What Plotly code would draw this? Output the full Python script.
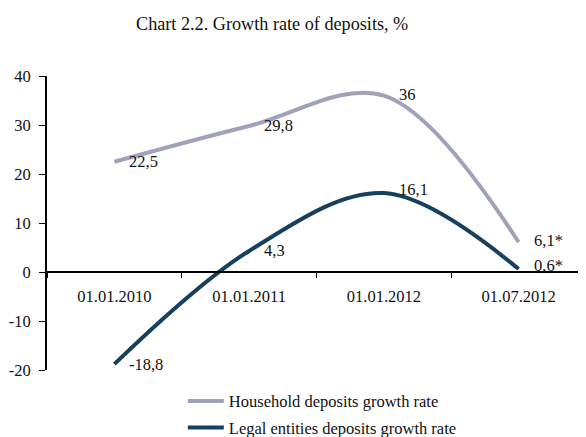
import plotly.graph_objects as go

categories = ["01.01.2010", "01.01.2011", "01.01.2012", "01.07.2012"]
household = [22.5, 29.8, 36, 6.1]
legal = [-18.8, 4.3, 16.1, 0.6]
household_labels = ["22,5", "29,8", "36", "6,1*"]
legal_labels = ["-18,8", "4,3", "16,1", "0,6*"]
y_ticks = [-20, -10, 0, 10, 20, 30, 40]

HH_COLOR = "#A0A1BA"
LE_COLOR = "#17405E"
FONT = "Liberation Serif, Times New Roman, serif"

fig = go.Figure()
fig.add_trace(go.Scatter(
    x=categories, y=household, mode="lines", name="Household deposits growth rate",
    legendgroup="hh",
    line=dict(color=HH_COLOR, width=4, shape="spline", smoothing=1.0),
))
fig.add_trace(go.Scatter(
    x=categories, y=legal, mode="lines", name="Legal entities deposits growth rate",
    legendgroup="le",
    line=dict(color=LE_COLOR, width=4, shape="spline", smoothing=1.0),
))

# data labels
hh_yshift = [0, 0, 1, 2]
le_yshift = [0, 0, 4, 4]
for i, c in enumerate(categories):
    fig.add_annotation(x=c, y=household[i], text=household_labels[i], showarrow=False,
                       xanchor="left", yanchor="middle", xshift=13, yshift=hh_yshift[i],
                       font=dict(family=FONT, size=16.5, color="#111"))
    fig.add_annotation(x=c, y=legal[i], text=legal_labels[i], showarrow=False,
                       xanchor="left", yanchor="middle", xshift=13, yshift=le_yshift[i],
                       font=dict(family=FONT, size=16.5, color="#111"))

fig.update_layout(
    width=578, height=437,
    margin=dict(l=39, r=0, t=68, b=75),
    paper_bgcolor="white", plot_bgcolor="white",
    font=dict(family=FONT, size=16.5, color="#111"),
    title=dict(text="Chart 2.2. Growth rate of deposits, %", x=0.457, xanchor="center",
               y=1 - 16 / 437, yanchor="middle", font=dict(family=FONT, size=18.2, color="#111")),
    showlegend=True,
    legend=dict(x=0.252, xanchor="left",
                y=-75 / 294 + 0.001, yanchor="bottom", bgcolor="rgba(0,0,0,0)",
                font=dict(family=FONT, size=16.5, color="#111"), tracegroupgap=2,
                itemwidth=36),
    xaxis=dict(
        type="category", range=[-0.5, 3.5], anchor="free", position=1/3,
        showline=True, linecolor="black", linewidth=2,
        ticks="outside", ticklen=5, tickwidth=1, tickcolor="black", tickson="boundaries",
        showgrid=False, zeroline=False, ticklabelstandoff=9,
        tickfont=dict(family=FONT, size=16.5, color="#111"),
    ),
    yaxis=dict(
        range=[-20, 40], tickvals=y_ticks, ticktext=[str(v) for v in y_ticks],
        showline=True, linecolor="black", linewidth=2,
        ticks="outside", ticklen=6, tickwidth=1, tickcolor="black",
        showgrid=False, zeroline=False, ticklabelstandoff=5,
        tickfont=dict(family=FONT, size=16.5, color="#111"),
    ),
)

fig.write_html("out.html")
